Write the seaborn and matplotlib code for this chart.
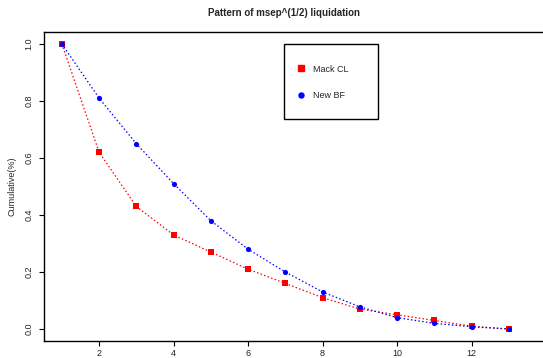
import pandas as pd
import matplotlib
matplotlib.use("Agg")
import matplotlib.pyplot as plt
from matplotlib.patches import Rectangle
from matplotlib.lines import Line2D
import seaborn as sns

# data
periods = list(range(1, 14))
mack_cl = [1.0, 0.62, 0.43, 0.33, 0.27, 0.21, 0.16, 0.11, 0.07, 0.05, 0.03, 0.01, 0.0]
new_bf = [1.0, 0.81, 0.65, 0.51, 0.38, 0.28, 0.20, 0.13, 0.078, 0.04, 0.02, 0.008, 0.0]
series_names = ["Mack CL", "New BF"]
x_ticks = [2, 4, 6, 8, 10, 12]
y_ticks = [0.0, 0.2, 0.4, 0.6, 0.8, 1.0]

df = pd.DataFrame({
    "period": periods * 2,
    "value": mack_cl + new_bf,
    "series": [series_names[0]] * len(periods) + [series_names[1]] * len(periods),
})

sns.set_style("white")
plt.rcParams["font.family"] = ["Liberation Sans", "DejaVu Sans"]

W, H = 543, 358
fig = plt.figure(figsize=(W / 100, H / 100), dpi=100)

# plot region: left edge 44px, bottom 341px, top 32px, runs past the right edge
ax_left, ax_right, ax_top, ax_bottom = 44, 600, 32, 341
ax = fig.add_axes([ax_left / W, (H - ax_bottom) / H,
                   (ax_right - ax_left) / W, (ax_bottom - ax_top) / H])

colors = {"Mack CL": "red", "New BF": "blue"}

sns.lineplot(data=df, x="period", y="value", hue="series", palette=colors,
             ax=ax, legend=False, linewidth=0.9, dashes=False)
for ln in ax.get_lines():
    ln.set_dashes((1.2, 1.8))

sns.scatterplot(data=df[df.series == "Mack CL"], x="period", y="value",
                color="red", marker="s", s=22, linewidth=0, ax=ax, legend=False, zorder=3)
sns.scatterplot(data=df[df.series == "New BF"], x="period", y="value",
                color="blue", marker="o", s=14, linewidth=0, ax=ax, legend=False, zorder=4)

px_per_unit = 37.24
ax.set_xlim(0.52, 0.52 + (ax_right - ax_left) / px_per_unit)
ax.set_ylim(-0.042, 1.042)
ax.set_xticks(x_ticks)
ax.set_yticks(y_ticks)
ax.set_xticklabels([str(t) for t in x_ticks], fontsize=6.5, color="#222222")
ax.set_yticklabels([f"{t:.1f}" for t in y_ticks], fontsize=6.5, color="#222222",
                   rotation=90, va="center")
ax.tick_params(axis="both", direction="out", length=3.3, width=0.8, color="black",
               bottom=True, left=True, pad=4.3)
ax.tick_params(axis="x", pad=2.2)
ax.set_xlabel("")
ax.set_ylabel("Cumulative(%)", fontsize=6.5, va="center")
ax.yaxis.set_label_coords(-(ax_left - 12) / (ax_right - ax_left), 0.5)
for sp in ax.spines.values():
    sp.set_color("black")
    sp.set_linewidth(1.0)

fig.text(284.5 / W, 1 - 13 / H, "Pattern of msep^(1/2) liquidation",
         ha="center", va="center", fontsize=7, fontweight="bold")

# legend box
fig.patches.append(Rectangle((284 / W, 1 - 119 / H), 94 / W, 75 / H,
                             transform=fig.transFigure, fill=False,
                             edgecolor="black", linewidth=1.0, zorder=5))
handles = [
    Line2D([], [], linestyle="none", marker="s", color="red", markersize=4.7),
    Line2D([], [], linestyle="none", marker="o", color="blue", markersize=3.6),
]
fig.legend(handles, series_names, loc="upper left",
           bbox_to_anchor=(292 / W, 1 - 60 / H), frameon=False,
           fontsize=6.5, handlelength=1.0, handletextpad=0.8,
           labelspacing=1.9, borderpad=0)

fig.savefig("out.png", dpi=100)
